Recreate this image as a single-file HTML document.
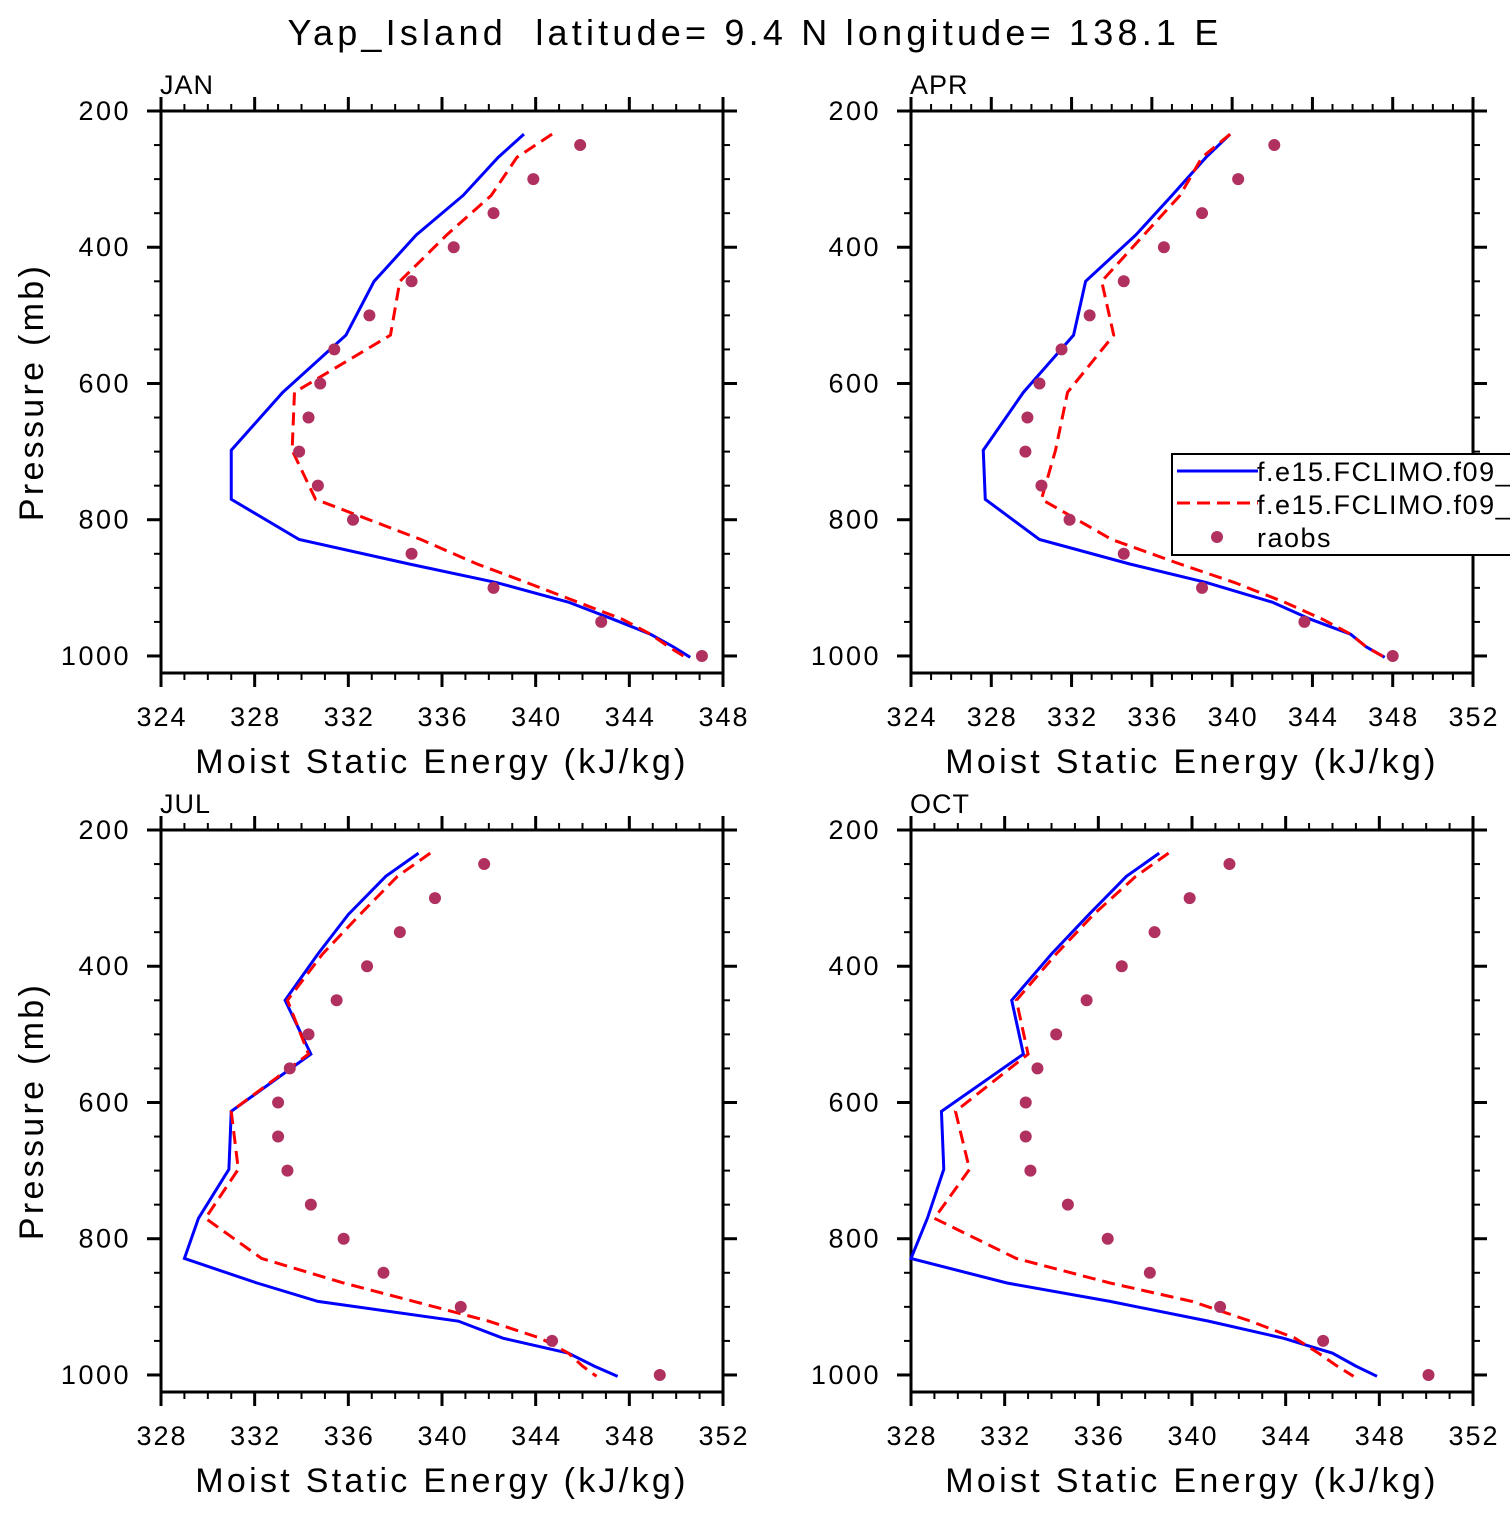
<!DOCTYPE html>
<html><head><meta charset="utf-8"><style>
body{margin:0;background:#fff;}
svg text{font-family:"Liberation Sans",sans-serif;fill:#000;}
</style></head><body>
<svg id="c" width="1510" height="1510" viewBox="0 0 1510 1510" xmlns="http://www.w3.org/2000/svg">
<text x="755" y="45" font-size="36" text-anchor="middle" letter-spacing="4.2" xml:space="preserve">Yap_Island  latitude= 9.4 N longitude= 138.1 E</text>
</svg>
<script>
const modelLevels=[234,268,324,382,450,529,613,698,770,829,865,892,921,946,968,987,1002];
const obsLevels=[250,300,350,400,450,500,550,600,650,700,750,800,850,900,950,1000];
const pTicks=[200,400,600,800,1000];
const months=["JAN","APR","JUL","OCT"];
const janBlue=[339.5,338.4,336.9,334.9,333.1,331.9,329.2,327.0,327.0,329.9,334.6,338.3,341.4,343.3,344.9,345.9,346.6];
const janRed=[340.7,339.2,338.1,336.2,334.2,333.8,329.7,329.6,330.6,335.1,337.5,339.6,341.8,343.7,344.9,345.7,346.4];
const janObs=[341.9,339.9,338.2,336.5,334.7,332.9,331.4,330.8,330.3,329.9,330.7,332.2,334.7,338.2,342.8,347.1];
const aprBlue=[339.9,338.7,337.0,335.2,332.7,332.1,329.6,327.6,327.7,330.4,334.9,338.7,342.0,343.9,345.9,346.7,347.6];
const aprRed=[339.9,338.5,337.4,335.6,333.5,334.1,331.8,331.2,330.5,334.0,337.4,340.1,342.6,344.5,345.9,346.7,347.6];
const aprObs=[342.1,340.3,338.5,336.6,334.6,332.9,331.5,330.4,329.8,329.7,330.5,331.9,334.6,338.5,343.6,348.0];
const julBlue=[339.0,337.6,336.0,334.7,333.3,334.4,331.0,330.9,329.6,329.0,332.1,334.7,340.7,342.6,345.4,346.5,347.5];
const julRed=[339.5,338.1,336.5,334.9,333.4,334.3,331.0,331.3,329.9,332.3,335.8,338.8,342.0,344.2,345.4,346.0,346.6];
const julObs=[341.8,339.7,338.2,336.8,335.5,334.3,333.5,333.0,333.0,333.4,334.4,335.8,337.5,340.8,344.7,349.3];
const octBlue=[338.6,337.2,335.6,334.0,332.3,332.8,329.3,329.4,328.7,328.0,332.1,336.5,340.7,343.9,346.0,347.0,347.9];
const octRed=[339.0,337.6,335.8,334.2,332.5,333.0,329.9,330.5,329.0,332.5,336.5,340.0,342.5,344.4,345.4,346.2,346.9];
const octObs=[341.6,339.9,338.4,337.0,335.5,334.2,333.4,332.9,332.9,333.1,334.7,336.4,338.2,341.2,345.6,350.1];
const xMins=[324,324,328,328];
const xMaxs=[348,352,352,352];
const legendLabels=["f.e15.FCLIMO.f09_f09","f.e15.FCLIMO.f09_f09","raobs"];

const NS="http://www.w3.org/2000/svg";
const svg=document.getElementById('c');
function mk(tag,attrs,parent){const e=document.createElementNS(NS,tag);for(const k in attrs)e.setAttribute(k,attrs[k]);(parent||svg).appendChild(e);return e;}
const blues=[janBlue,aprBlue,julBlue,octBlue],reds=[janRed,aprRed,julRed,octRed],obs=[janObs,aprObs,julObs,octObs];
const boxes=[[161,111],[911,111],[161,830],[911,830]];
const W=562,H=562,P0=200,P1=1025;
for(let i=0;i<4;i++){
  const [bx,by]=boxes[i];const x0=xMins[i],x1=xMaxs[i];
  const xs=v=>bx+(v-x0)/(x1-x0)*W;
  const ys=p=>by+(p-P0)/(P1-P0)*H;
  const g=mk('g',{});
  
  
  for(let v=x0;v<=x1;v++){
    const major=(v%4===0);const L=major?14:7;const x=xs(v);
    mk('line',{x1:x,y1:by,x2:x,y2:by-L,stroke:'#000','stroke-width':major?3:2},g);
    mk('line',{x1:x,y1:by+H,x2:x,y2:by+H+L,stroke:'#000','stroke-width':major?3:2},g);
    if(major){const t=mk('text',{x:x+1,y:by+H+53,'font-size':27,'text-anchor':'middle','letter-spacing':'2'},g);t.textContent=v;
      }
  }
  for(let p=200;p<=1000;p+=50){
    const major=(p%200===0);const L=major?14:7;const y=ys(p);
    mk('line',{x1:bx,y1:y,x2:bx-L,y2:y,stroke:'#000','stroke-width':major?3:2},g);
    mk('line',{x1:bx+W,y1:y,x2:bx+W+L,y2:y,stroke:'#000','stroke-width':major?3:2},g);
  }
  pTicks.forEach(p=>{const t=mk('text',{x:bx-30,y:ys(p)+9,'font-size':27,'text-anchor':'end','letter-spacing':'2.5'},g);t.textContent=p;
    });
  mk('rect',{x:bx,y:by,width:W,height:H,fill:'none',stroke:'#000','stroke-width':3},g);
  const ml=mk('text',{x:bx-1,y:by-17,'font-size':27,'letter-spacing':'1'},g);ml.textContent=months[i];
  
  const xt=mk('text',{x:bx+W/2,y:by+H+100,'font-size':34,'text-anchor':'middle','letter-spacing':'3.3'},g);xt.textContent='Moist Static Energy (kJ/kg)';
  
  if(i%2===0){const yt=mk('text',{x:0,y:0,'font-size':34,'text-anchor':'middle','letter-spacing':'3.3',transform:`translate(43,${by+281}) rotate(-90)`},g);yt.textContent='Pressure (mb)';
    }
  const bl=mk('polyline',{points:blues[i].map((v,k)=>xs(v)+','+ys(modelLevels[k])).join(' '),fill:'none',stroke:'#0000ff','stroke-width':3},g);
  
  const rl=mk('polyline',{points:reds[i].map((v,k)=>xs(v)+','+ys(modelLevels[k])).join(' '),fill:'none',stroke:'#ff0000','stroke-width':3,'stroke-dasharray':'13,7'},g);
  
  obs[i].forEach((v,k)=>{const c=mk('circle',{cx:xs(v),cy:ys(obsLevels[k]),r:6,fill:'#b03060'},g);
    });
}
const lg=mk('g',{});


mk('rect',{x:1172,y:454,width:400,height:101,fill:'#fff',stroke:'#000','stroke-width':2},lg);
mk('line',{x1:1177,y1:471,x2:1258,y2:471,stroke:'#0000ff','stroke-width':3},lg);
mk('line',{x1:1177,y1:503,x2:1258,y2:503,stroke:'#ff0000','stroke-width':3,'stroke-dasharray':'13,7'},lg);
mk('circle',{cx:1217,cy:537,r:6,fill:'#b03060'},lg);
legendLabels.forEach((s,k)=>{const t=mk('text',{x:1257,y:481+k*33,'font-size':27,'letter-spacing':'1.5'},lg);t.textContent=s;
  });
</script>
</body></html>
